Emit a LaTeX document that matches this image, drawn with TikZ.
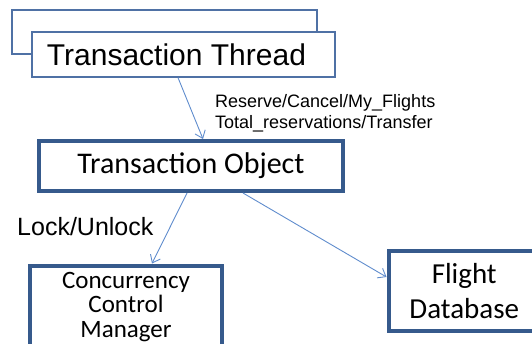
\documentclass[tikz,border=0pt]{standalone}
\usepackage{fontspec}
\newfontfamily\arialf{Liberation Sans}
\newfontfamily\calibrif{Carlito}
\usetikzlibrary{arrows.meta}
\definecolor{thinblue}{RGB}{79,113,165}
\definecolor{thickblue}{RGB}{54,90,140}
\definecolor{arrowblue}{RGB}{95,140,205}
\tikzset{
  thinbox/.style={draw=thinblue, line width=1.3pt, fill=white, inner sep=0pt},
  thickbox/.style={draw=thickblue, line width=4pt, fill=white, inner sep=0pt},
  conn/.style={draw=arrowblue, line width=0.9pt, -{Straight Barb[length=7pt,width=11pt]}},
  lbl/.style={inner sep=0pt, text=black}
}
\begin{document}
\begin{tikzpicture}[x=1pt,y=-1pt]
\useasboundingbox (0,0) rectangle (532,343);
\clip (0,0) rectangle (532,343);
% back box
\node[thinbox, minimum width=305pt, minimum height=44pt] (back) at (164.5,32) {};
% front box
\node[thinbox, minimum width=303pt, minimum height=45pt, font=\arialf\fontsize{30}{34}\selectfont] (thread) at (183.5,54.5) {Transaction Thread\hspace*{14pt}};
% transaction object
\node[thickbox, minimum width=304pt, minimum height=50pt, font=\calibrif\fontsize{30}{34}\selectfont] (obj) at (191,166) {\raisebox{-2pt}{Transaction Object}};
% concurrency control manager
\node[thickbox, anchor=north, minimum width=192pt, inner ysep=6.5pt, align=center, font=\calibrif\fontsize{25}{24.5}\selectfont] (ccm) at (126,263.5) {Concurrency\\Control\\Manager\rule[-40pt]{0pt}{40pt}};
% flight database
\node[thickbox, minimum width=151.5pt, minimum height=80pt, align=center, font=\calibrif\fontsize{29}{35}\selectfont] (fdb) at (464.25,291) {Flight\\Database};
% labels
\node[lbl, anchor=north west, align=left, font=\arialf\fontsize{18}{21}\selectfont] (ops) at (215,94) {Reserve/Cancel/My\_Flights\\Total\_reservations/Transfer};
\node[lbl, anchor=base west, font=\arialf\fontsize{25}{28}\selectfont] (lock) at (17,235) {Lock/Unlock};
% connectors
\draw[conn] ([xshift=-5.5pt]thread.south) -- ([xshift=12pt]obj.north);
\draw[conn] ([xshift=-4pt]obj.south) -- ([xshift=26pt]ccm.north);
\draw[conn] ([xshift=52pt]obj.south) -- ([yshift=14pt]fdb.west);
\end{tikzpicture}
\end{document}
